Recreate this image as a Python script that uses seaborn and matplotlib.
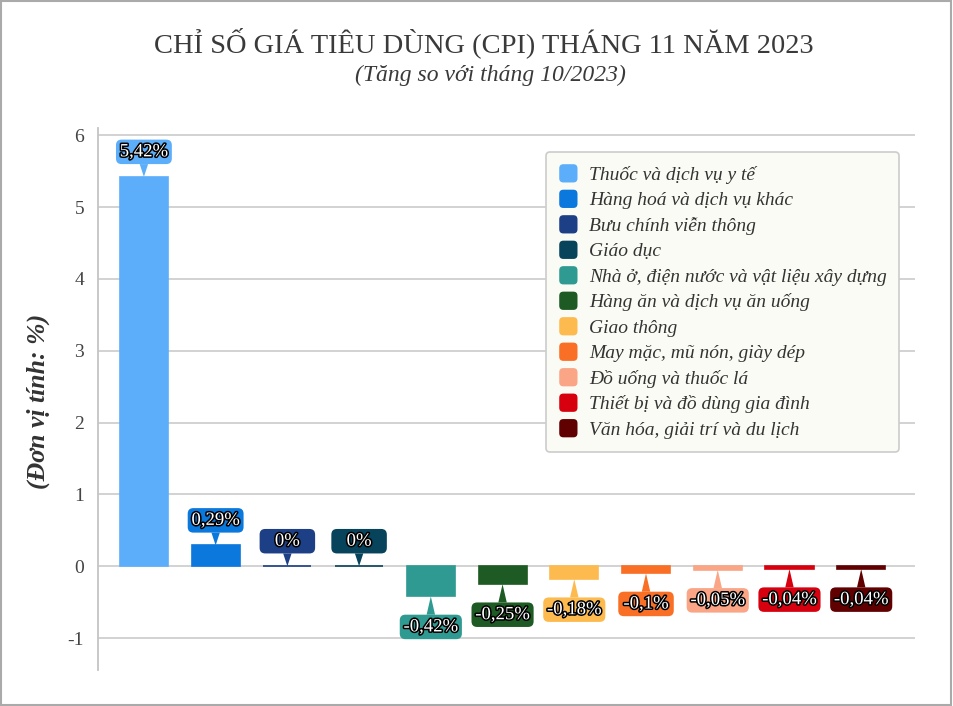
import matplotlib
matplotlib.use("Agg")
import matplotlib.pyplot as plt
import seaborn as sns
import pandas as pd
from matplotlib.patches import FancyBboxPatch, Rectangle, BoxStyle
from matplotlib.legend_handler import HandlerPatch
from matplotlib.patches import Patch
import matplotlib.patheffects as pe

categories = [
    "Thuốc và dịch vụ y tế",
    "Hàng hoá và dịch vụ khác",
    "Bưu chính viễn thông",
    "Giáo dục",
    "Nhà ở, điện nước và vật liệu xây dựng",
    "Hàng ăn và dịch vụ ăn uống",
    "Giao thông",
    "May mặc, mũ nón, giày dép",
    "Đồ uống và thuốc lá",
    "Thiết bị và đồ dùng gia đình",
    "Văn hóa, giải trí và du lịch",
]
values = [5.42, 0.29, 0, 0, -0.42, -0.25, -0.18, -0.1, -0.05, -0.04, -0.04]
colors = ["#5caefa", "#0a78dd", "#1c3f86", "#07435b", "#2e9a91", "#1e5a23",
          "#fdbb4f", "#f86f25", "#f9a586", "#d6000f", "#600000"]
yticks = [-1, 0, 1, 2, 3, 4, 5, 6]
title = "CHỈ SỐ GIÁ TIÊU DÙNG (CPI) THÁNG 11 NĂM 2023"
subtitle = "(Tăng so với tháng 10/2023)"
ylabel = "(Đơn vị tính: %)"

sns.set_theme(style="white")
plt.rcParams["font.family"] = ["Liberation Serif", "DejaVu Serif"]

W, H = 954, 706
fig = plt.figure(figsize=(W / 100, H / 100), dpi=100)
ax = fig.add_axes([98 / W, 1 - 670 / H, (915 - 98) / W, (670 - 128) / H])

df = pd.DataFrame({"cat": categories, "val": values})
sns.barplot(data=df, x="cat", y="val", hue="cat", order=categories,
            hue_order=categories, palette=colors, dodge=False, legend=False,
            width=0.67, ax=ax, saturation=1)
for p, c in zip(ax.patches, colors):
    p.set_edgecolor(c)
    p.set_linewidth(1.2)

ax.set_xlim(-0.64, 10.75)
ax.set_ylim(-1.445, 6.1)
ax.set_yticks(yticks)
ax.set_yticklabels([str(t) for t in yticks], fontsize=14, color="#444444")
ax.tick_params(axis="y", length=0, pad=10)
ax.set_xticks([])
ax.set_xlabel("")
ax.set_ylabel("")
ax.grid(axis="y", color="#cfcfcf", linewidth=1.3)
ax.set_axisbelow(True)
for s in ["top", "right", "bottom"]:
    ax.spines[s].set_visible(False)
ax.spines["left"].set_color("#c4c4c4")
ax.spines["left"].set_linewidth(1.3)

# rounded label box with a minimum width (in pixels)
_round = BoxStyle.Round(pad=0.2, rounding_size=0.3)


def min_width_box(x0, y0, width, height, mutation_size):
    minw = 48
    if width < minw:
        x0 -= (minw - width) / 2
        width = minw
    return _round(x0, y0, width, height, mutation_size)


for i, (v, c) in enumerate(zip(values, colors)):
    txt = f"{v:g}".replace(".", ",") + "%"
    off = 18 if v >= 0 else -22
    ax.annotate(txt, xy=(i, v), xytext=(0, off), textcoords="offset points",
                ha="center", va="center", fontsize=13.5, color="white",
                path_effects=[pe.withStroke(linewidth=2.2, foreground="black")],
                bbox=dict(boxstyle=min_width_box, fc=c, ec="none"),
                arrowprops=dict(arrowstyle="wedge,tail_width=0.45,shrink_factor=0.5",
                                fc=c, ec="none", shrinkA=0, shrinkB=0),
                zorder=5)


# legend with rounded square handles
class RoundHandler(HandlerPatch):
    def create_artists(self, legend, orig_handle, xdescent, ydescent, width,
                       height, fontsize, trans):
        s = min(width, height) * 1.05
        p = FancyBboxPatch((-xdescent + (width - s) / 2, -ydescent + (height - s) / 2),
                           s, s, boxstyle="round,pad=0,rounding_size=3",
                           fc=orig_handle.get_facecolor(), ec="none", transform=trans)
        return [p]


handles = [Patch(facecolor=c) for c in colors]
leg = fig.legend(handles, categories, loc="upper left",
                 bbox_to_anchor=(546 / W, 1 - 152 / H), bbox_transform=fig.transFigure,
                 borderaxespad=0, frameon=True, fancybox=True,
                 prop=dict(family=["Liberation Serif"], style="italic", size=14),
                 handler_map={Patch: RoundHandler()}, handlelength=1.0, handleheight=1.0,
                 handletextpad=0.55, labelspacing=0.315, borderpad=0.65)
for t in leg.get_texts():
    t.set_color("#333333")
fr = leg.get_frame()
fr.set_facecolor("#fbfbf5")
fr.set_edgecolor("#cccccc")
fr.set_alpha(1)
fr.set_linewidth(1.2)

fig.text(484 / W, 1 - 43 / H, title, ha="center", va="center", fontsize=20.5, color="#3a3a3a")
fig.text(490 / W, 1 - 75 / H, subtitle, ha="center", va="center", fontsize=17,
         style="italic", color="#3a3a3a")
fig.text(38 / W, 1 - 401 / H, ylabel, ha="center", va="center", fontsize=18.5,
         style="italic", weight="bold", rotation=90, color="#333333")

fig.patches.append(Rectangle((0.001, 0.001), 0.996, 0.997, transform=fig.transFigure,
                             fill=False, ec="#aaaaaa", lw=1.5))

fig.savefig("out.png", dpi=100)
